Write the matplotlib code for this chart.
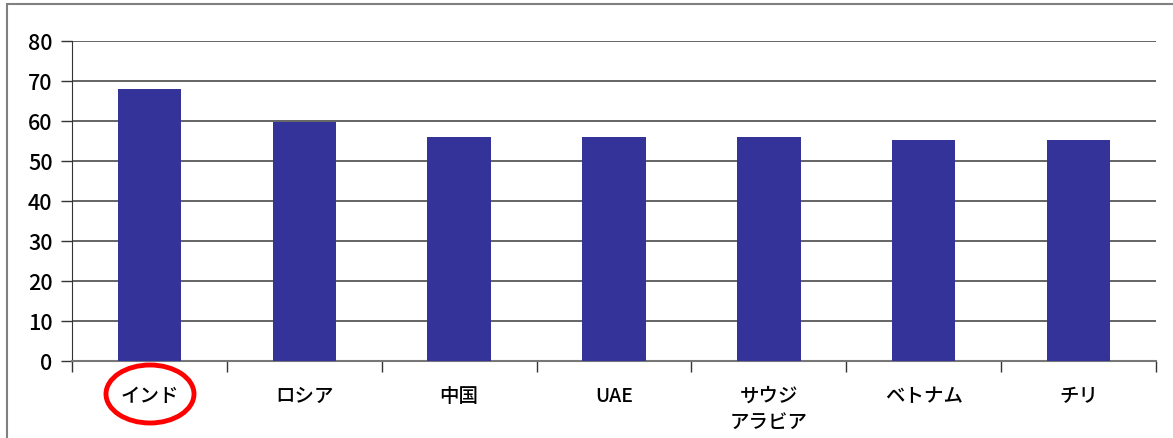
import matplotlib.pyplot as plt
from matplotlib.patches import Ellipse, Rectangle

plt.rcParams['font.family'] = ['Noto Sans CJK JP', 'DejaVu Sans']

countries = ["インド", "ロシア", "中国", "UAE", "サウジ\nアラビア", "ベトナム", "チリ"]
values = [68, 59.8, 56, 56, 56, 55.3, 55.3]
yticks = [0, 10, 20, 30, 40, 50, 60, 70, 80]

W, H = 1173, 439
fig = plt.figure(figsize=(W / 100, H / 100), dpi=100)

# outer frame (left and top edges visible, bottom cut)
fig.patches.append(Rectangle((7 / W, -0.1), 1.2, (H - 4) / H + 0.1 - 0.002,
                             transform=fig.transFigure, fill=False,
                             edgecolor="#808080", linewidth=1.5))

ax = fig.add_axes([72 / W, 1 - 362 / H, (1156 - 72) / W, (362 - 42) / H])
x = list(range(len(countries)))
ax.bar(x, values, width=0.41, color="#333399", zorder=3)

ax.set_xlim(-0.5, len(countries) - 0.5)
ax.set_ylim(0, 80)
ax.set_yticks(yticks)
ax.set_yticklabels([str(v) for v in yticks], fontsize=15.5, fontweight="medium")
ax.yaxis.grid(True, color="#4a4a4a", linewidth=1.2, zorder=0)

ax.set_xticks(x)
ax.set_xticklabels(countries, fontsize=14, linespacing=1.45, fontweight="medium")
ax.set_xticks([i - 0.5 for i in range(len(countries) + 1)], minor=True)
ax.tick_params(axis="x", which="major", length=0, pad=18)
ax.tick_params(axis="x", which="minor", length=8, color="#333333", width=1)
ax.tick_params(axis="y", length=8, color="#333333", width=1, pad=6)
for lab in ax.get_xticklabels():
    lab.set_verticalalignment("top")

for s in ["top", "right"]:
    ax.spines[s].set_visible(False)
ax.spines["left"].set_color("#333333")
ax.spines["bottom"].set_color("#777777")
ax.spines["bottom"].set_linewidth(1.5)

# red ellipse around India label
fig.patches.append(Ellipse((150 / W, 1 - 395 / H), 88 / W, 58 / H,
                           transform=fig.transFigure, fill=False,
                           edgecolor="#ff0000", linewidth=3.5))

fig.savefig("out.png", dpi=100)
